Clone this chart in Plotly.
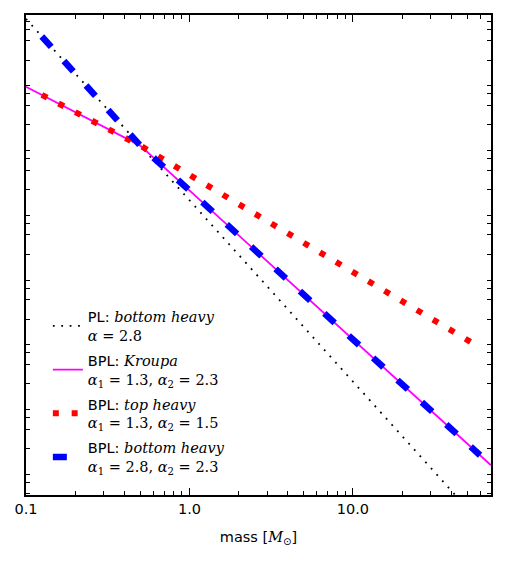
import plotly.graph_objects as go

# ---- data (arbitrary y normalisation, log-log) ----
mass_pl = [0.1, 0.5, 70]
n_pl = [4.32, 0.0477, 4.68e-8]

mass_kroupa = [0.1, 0.5, 70]
n_kroupa = [0.3866, 0.0477, 5.53e-7]

mass_top = [0.125, 0.5, 60]
n_top = [0.2892, 0.0477, 3.63e-5]

mass_bottom = [0.125, 0.5, 60]
n_bottom = [2.313, 0.0477, 7.88e-7]

x_tickvals = [0.1, 1, 10]
x_ticktext = ["0.1", "1.0", "10.0"]
x_minor = [k * 10 ** e for e in (-1, 0, 1) for k in range(2, 10) if k * 10 ** e < 70]
y_ticks = [k * 10.0 ** e for e in range(-7, 1) for k in (1, 2, 3, 4)]

SERIF = "DejaVu Serif"


def m(s):
    return f"<span style='font-family:{SERIF}'>{s}</span>"


names = [
    "PL: " + m("<i>bottom heavy</i>") + "<br>" + m("<i>α</i> = 2.8"),
    "BPL: " + m("<i>Kroupa</i>") + "<br>" + m("<i>α</i><sub>1</sub> = 1.3, <i>α</i><sub>2</sub> = 2.3"),
    "BPL: " + m("<i>top heavy</i>") + "<br>" + m("<i>α</i><sub>1</sub> = 1.3, <i>α</i><sub>2</sub> = 1.5"),
    "BPL: " + m("<i>bottom heavy</i>") + "<br>" + m("<i>α</i><sub>1</sub> = 2.8, <i>α</i><sub>2</sub> = 2.3"),
]

fig = go.Figure()
fig.add_trace(go.Scatter(x=mass_pl, y=n_pl, mode="lines", name=names[0], legendgroup="a",
                         line=dict(color="black", width=1.8, dash="1.8px,6.6px")))
fig.add_trace(go.Scatter(x=mass_kroupa, y=n_kroupa, mode="lines", name=names[1], legendgroup="b",
                         line=dict(color="#FF00FF", width=1.8)))
fig.add_trace(go.Scatter(x=mass_top, y=n_top, mode="lines", name=names[2], legendgroup="c",
                         line=dict(color="#FF0000", width=6, dash="6px,12.8px")))
fig.add_trace(go.Scatter(x=mass_bottom, y=n_bottom, mode="lines", name=names[3], legendgroup="d",
                         line=dict(color="#0000FF", width=6.5, dash="14px,19px")))

fig.update_layout(
    width=507, height=562,
    margin=dict(l=26, r=16, t=15, b=67),
    paper_bgcolor="white", plot_bgcolor="white",
    font=dict(family="DejaVu Sans", size=14, color="black"),
    showlegend=True,
    legend=dict(x=0.047, y=0.405, xanchor="left", yanchor="top", bgcolor="rgba(0,0,0,0)",
                tracegroupgap=3, itemwidth=30, font=dict(size=14.5)),
)

fig.update_xaxes(
    type="log", range=[-1, 1.8451], showgrid=False, zeroline=False,
    showline=True, linewidth=2, linecolor="black", mirror="ticks",
    ticks="inside", ticklen=7, tickwidth=1, tickcolor="black",
    tickvals=x_tickvals, ticktext=x_ticktext, tickfont=dict(size=14.5),
    minor=dict(tickvals=x_minor, ticks="inside", ticklen=4, tickwidth=1, tickcolor="black"),
    title=dict(text="mass [" + m("<i>M</i>") + "<sub>⊙</sub>]", font=dict(size=14.5)),
)
fig.update_yaxes(
    type="log", range=[-6.717, 0.6955], showgrid=False, zeroline=False,
    showline=True, linewidth=2, linecolor="black", mirror="ticks",
    ticks="inside", ticklen=4, tickwidth=1, tickcolor="black",
    tickvals=y_ticks, showticklabels=False,
)

fig.write_html("out.html")
